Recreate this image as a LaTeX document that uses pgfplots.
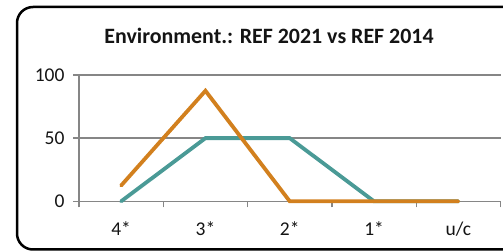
\documentclass[border=0pt]{standalone}
\usepackage{fontspec}
\setmainfont{Carlito}
\usepackage{pgfplots}
\pgfplotsset{compat=1.18}
\definecolor{orng}{RGB}{210,128,30}
\definecolor{teal2}{RGB}{74,154,150}
\definecolor{axgray}{RGB}{134,134,134}
\definecolor{txt}{RGB}{20,20,20}
\begin{document}
\begin{tikzpicture}
\begin{axis}[
 set layers,
 at={(79pt,49.7pt)}, anchor=south west,
 scale only axis, width=421.5pt, height=126.3pt,
 xmin=-0.5, xmax=4.5, ymin=0, ymax=100,
 clip=false,
 axis x line=bottom, axis y line=left,
 axis line style={draw=axgray, line width=1.3pt, -},
 xtick={0,1,2,3,4},
 xticklabels={4*,3*,2*,1*,u/c},
 minor xtick={-0.5,0.5,1.5,2.5,3.5,4.5},
 ytick={0,50,100},
 tick align=outside,
 major tick length=6pt,
 minor tick length=6pt,
 tick style={draw=axgray, line width=1.3pt},
 major x tick style={draw=none},
 ymajorgrids,
 grid style={draw=axgray, line width=1.3pt},
 /pgf/number format/assume math mode=true,
 yticklabel style={font=\fontsize{19.5}{19.5}\selectfont, text=txt, xshift=-5pt},
 xticklabel style={font=\fontsize{19.5}{19.5}\selectfont, text=txt, yshift=-11pt},
]
\addplot[teal2, line width=3.8pt, line cap=round] coordinates {(0,0)(1,50)(2,50)(3,0)(4,0)};
\addplot[orng, line width=3.8pt, line cap=round] coordinates {(0,12.5)(1,87.5)(2,0)(3,0)(4,0)};
\end{axis}
\node[anchor=base, text=txt, font=\fontsize{21.9}{24}\selectfont\bfseries] at (269pt,207pt) {Environment.: REF 2021 vs REF 2014};
\begin{scope}
\clip (0pt,0pt) rectangle (503pt,251pt);
\draw[line width=2.5pt, rounded corners=16pt] (17pt,1.5pt) rectangle (540pt,244pt);
\end{scope}
\pgfresetboundingbox
\useasboundingbox (0pt,0pt) rectangle (503pt,251pt);
\end{tikzpicture}
\end{document}
